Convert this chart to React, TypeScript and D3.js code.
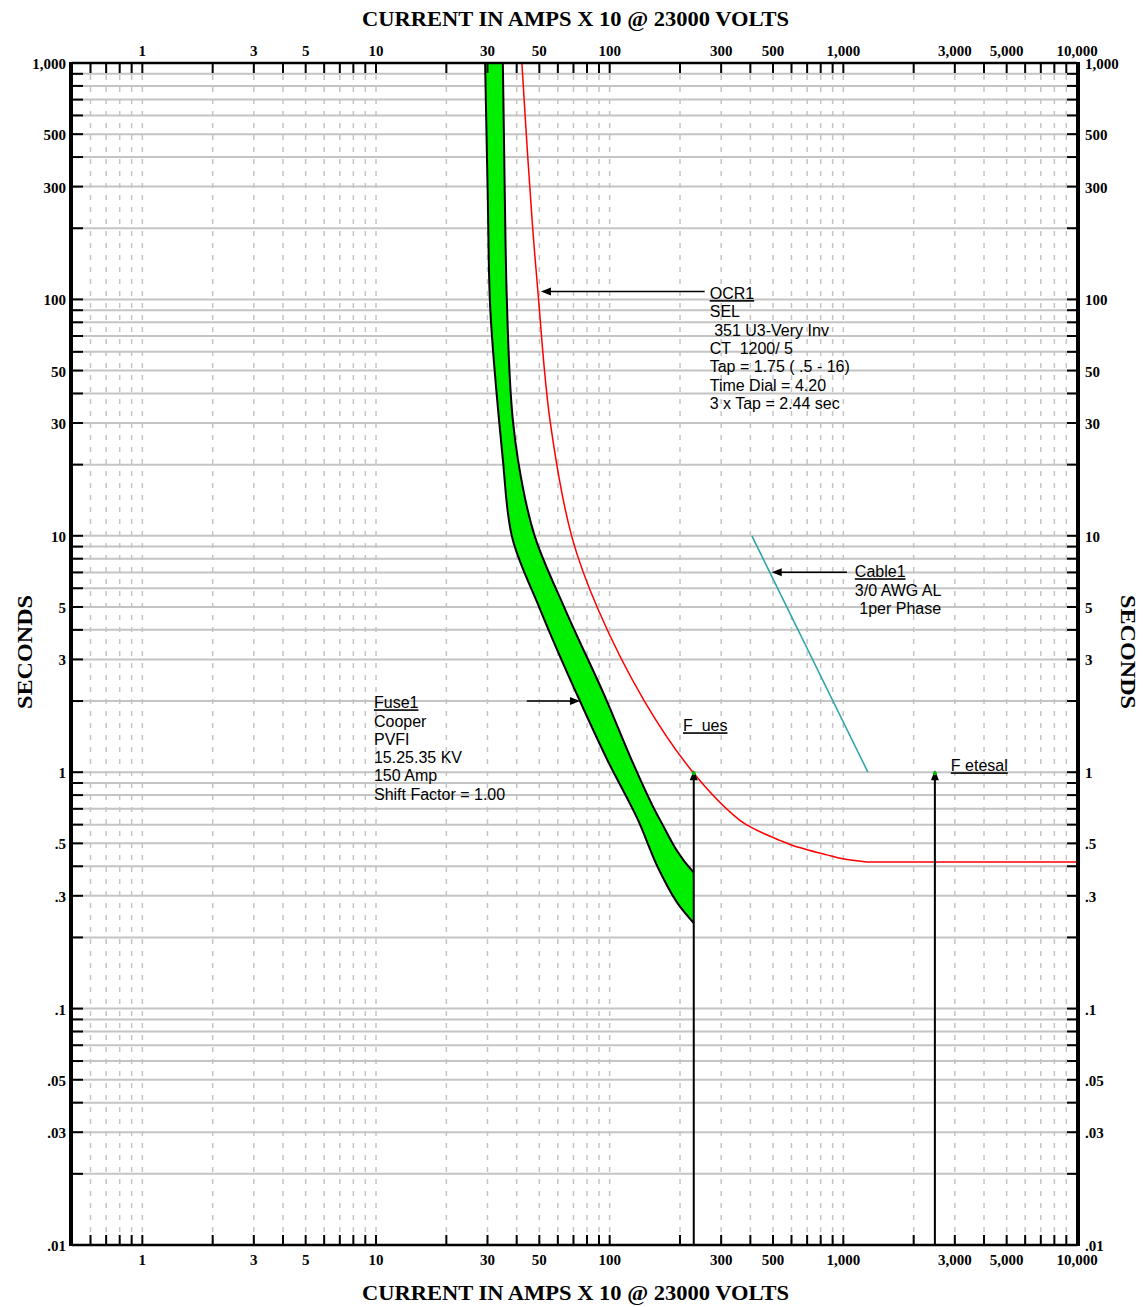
import React from 'react';
import * as d3 from 'd3';

const WIDTH = 1143;
const HEIGHT = 1307;
const PLOT = { left: 72, right: 1077, top: 63, bottom: 1245 };

// current (amps x 10) and time (seconds)
const xTickLabels = [1, 3, 5, 10, 30, 50, 100, 300, 500, 1000, 3000, 5000, 10000];
const yTickLabels = [1000, 500, 300, 100, 50, 30, 10, 5, 3, 1, 0.5, 0.3, 0.1, 0.05, 0.03, 0.01];

const fuseMinMelt: [number, number][] = [
  [29.3, 1000], [30.1, 263], [30.7, 100], [33.6, 31], [34.9, 21], [38.2, 9.9],
  [50.3, 4.9], [74.6, 2.0], [98, 1.12], [132, 0.63], [164, 0.38], [200, 0.27], [229, 0.23],
];
const fuseTotalClear: [number, number][] = [
  [34.9, 1000], [35.6, 263], [36.3, 100], [38.5, 31], [40.5, 21], [47.9, 9.9],
  [64.4, 4.9], [97.3, 2.0], [124.5, 1.12], [164, 0.63], [225, 0.384], [229, 0.377],
];
const ocrCurve: [number, number][] = [
  [42.1, 1000], [44.7, 389], [46.9, 197], [49.3, 108], [55.5, 31], [68.9, 9.9], [89.1, 4.9],
  [141.6, 1.98], [229, 0.99], [361, 0.626], [427, 0.568], [535, 0.515], [608, 0.49],
  [850, 0.447], [995, 0.43], [1261, 0.417], [10000, 0.417],
];
const cableCurve: [number, number][] = [[406, 10], [1274, 1]];
const faultCurrents = [229, 2465];
const faultTime = 1;

const ocrText = ['SEL', ' 351 U3-Very Inv', 'CT  1200/ 5', 'Tap = 1.75 ( .5 - 16)', 'Time Dial = 4.20', '3 x Tap = 2.44 sec'];
const fuseText = ['Cooper', 'PVFI', '15.25.35 KV', '150 Amp', 'Shift Factor = 1.00'];
const cableText = ['3/0 AWG AL', ' 1per Phase'];

const SANS = '"Liberation Sans", Arial, sans-serif';
const SERIF = '"Liberation Serif", "Times New Roman", serif';

const fmtX = d3.format(',');
const fmtY = (v: number) => (v < 1 ? String(v).replace(/^0/, '') : d3.format(',')(v));

const HArrow = ({ x1, x2, y }: { x1: number; x2: number; y: number }) => {
  const dir = x2 > x1 ? 1 : -1;
  return (
    <g>
      <line x1={x1} x2={x2 - dir * 6} y1={y} y2={y} stroke="#000" strokeWidth={1.6} />
      <path d={`M${x2},${y} L${x2 - dir * 10},${y - 4} L${x2 - dir * 10},${y + 4} Z`} fill="#000" />
    </g>
  );
};

const Note = ({ x, y, title, lines }: { x: number; y: number; title: string; lines: string[] }) => (
  <text x={x} y={y} fontFamily={SANS} fontSize={16} fill="#000" style={{ whiteSpace: 'pre' }}>
    <tspan x={x} y={y} style={{ textDecoration: 'underline' }}>{title}</tspan>
    {lines.map((l, i) => (
      <tspan key={i} x={x} y={y + 18.3 * (i + 1)}>{l}</tspan>
    ))}
  </text>
);

const App = () => {
  const x = d3.scaleLog().domain([0.5, 10000]).range([PLOT.left, PLOT.right]);
  const y = d3.scaleLog().domain([0.01, 1000]).range([PLOT.bottom, PLOT.top]);

  const xGrid = x.ticks();
  const yGrid = y.ticks();

  // curves fall with time, so smooth them along y
  const line = d3
    .line<[number, number]>()
    .x((d) => x(d[0]))
    .y((d) => y(d[1]))
    .curve(d3.curveMonotoneY);

  const meltPath = line(fuseMinMelt) ?? '';
  const clearPath = line(fuseTotalClear) ?? '';
  const clearBack = line([...fuseTotalClear].reverse()) ?? '';
  const bandPath = meltPath + 'L' + clearBack.slice(1) + 'Z';

  const ocrTail = ocrCurve[ocrCurve.length - 1];
  const ocrLine = d3
    .line<[number, number]>()
    .x((d) => x(d[0]))
    .y((d) => y(d[1]))
    .curve(d3.curveCatmullRom.alpha(0.5));
  const ocrPath = (ocrLine(ocrCurve.slice(0, -1)) ?? '') + `L${x(ocrTail[0])},${y(ocrTail[1])}`;

  const midY = (PLOT.top + PLOT.bottom) / 2;
  const midX = (PLOT.left + PLOT.right) / 2 + 1;

  return (
    <svg width={WIDTH} height={HEIGHT} style={{ position: 'absolute', left: 0, top: 0, background: '#fff' }}>
      <defs>
        <clipPath id="plot">
          <rect x={PLOT.left} y={PLOT.top} width={PLOT.right - PLOT.left} height={PLOT.bottom - PLOT.top} />
        </clipPath>
      </defs>
      <rect width={WIDTH} height={HEIGHT} fill="#fff" />

      {/* grid */}
      {yGrid.map((t, i) => (
        <line key={'hy' + i} x1={PLOT.left} x2={PLOT.right} y1={y(t)} y2={y(t)} stroke="#c4c4c4" strokeWidth={2} />
      ))}
      {xGrid.map((v, i) => (
        <line key={'vx' + i} x1={x(v)} x2={x(v)} y1={PLOT.top} y2={PLOT.bottom} stroke="#c4c4c4" strokeWidth={1.5} strokeDasharray="5,7" />
      ))}

      {/* curves */}
      <g clipPath="url(#plot)">
        <path d={bandPath} fill="#00ee00" stroke="none" />
        <path d={meltPath} fill="none" stroke="#000" strokeWidth={2} />
        <path d={clearPath} fill="none" stroke="#000" strokeWidth={2} />
        <path d={ocrPath} fill="none" stroke="#ff0000" strokeWidth={1.5} />
        <path d={d3.line<[number, number]>().x((d) => x(d[0])).y((d) => y(d[1]))(cableCurve) ?? ''} fill="none" stroke="#2aa3a8" strokeWidth={1.5} />
      </g>

      {/* fault markers */}
      {faultCurrents.map((f, i) => (
        <g key={'f' + i}>
          <line x1={x(f)} x2={x(f)} y1={PLOT.bottom} y2={y(faultTime) + 6} stroke="#000" strokeWidth={2} />
          <path d={`M${x(f)},${y(faultTime) - 2} L${x(f) - 4},${y(faultTime) + 8} L${x(f) + 4},${y(faultTime) + 8} Z`} fill="#000" />
          <circle cx={x(f)} cy={y(faultTime) + 1} r={2} fill="#00c000" />
        </g>
      ))}

      {/* annotations */}
      <HArrow x1={x(255)} x2={x(50.8)} y={y(108)} />
      <Note x={x(268)} y={y(100.3)} title="OCR1" lines={ocrText} />
      <HArrow x1={x(44.2)} x2={x(74.6)} y={y(2.0)} />
      <Note x={x(9.8)} y={y(1.864)} title="Fuse1" lines={fuseText} />
      <HArrow x1={x(1036)} x2={x(494)} y={y(7.01)} />
      <Note x={x(1120)} y={y(6.68)} title="Cable1" lines={cableText} />
      <Note x={x(206)} y={y(1.49)} title="F  ues" lines={[]} />
      <Note x={x(2885)} y={y(1.009)} title="F etesal" lines={[]} />

      {/* frame */}
      <line x1={PLOT.left} x2={PLOT.right} y1={PLOT.top} y2={PLOT.top} stroke="#000" strokeWidth={2.5} />
      <line x1={PLOT.left} x2={PLOT.right} y1={PLOT.bottom} y2={PLOT.bottom} stroke="#000" strokeWidth={2.5} />
      <line x1={PLOT.left - 1} x2={PLOT.left - 1} y1={PLOT.top - 1} y2={PLOT.bottom + 1} stroke="#000" strokeWidth={4} />
      <line x1={PLOT.right + 1} x2={PLOT.right + 1} y1={PLOT.top - 1} y2={PLOT.bottom + 1} stroke="#000" strokeWidth={4} />

      {/* tick marks */}
      {xGrid.map((v, i) => (
        <g key={'xt' + i}>
          <line x1={x(v)} x2={x(v)} y1={PLOT.top} y2={PLOT.top + 10} stroke="#000" strokeWidth={2} />
          <line x1={x(v)} x2={x(v)} y1={PLOT.bottom} y2={PLOT.bottom - 10} stroke="#000" strokeWidth={2} />
        </g>
      ))}
      {yGrid.map((t, i) => (
        <g key={'yt' + i}>
          <line x1={PLOT.left} x2={PLOT.left + 11} y1={y(t)} y2={y(t)} stroke="#000" strokeWidth={2} />
          <line x1={PLOT.right} x2={PLOT.right - 10} y1={y(t)} y2={y(t)} stroke="#000" strokeWidth={2} />
        </g>
      ))}

      {/* tick labels */}
      <g fontFamily={SERIF} fontWeight="bold" fontSize={15} fill="#000">
        {xTickLabels.map((v) => (
          <g key={'xl' + v}>
            <text x={x(v)} y={56} textAnchor="middle">{fmtX(v)}</text>
            <text x={x(v)} y={1265} textAnchor="middle">{fmtX(v)}</text>
          </g>
        ))}
        {yTickLabels.map((t) => (
          <g key={'yl' + t}>
            <text x={66} y={y(t) + 6} textAnchor="end">{fmtY(t)}</text>
            <text x={1085} y={y(t) + 6} textAnchor="start">{fmtY(t)}</text>
          </g>
        ))}
      </g>

      {/* titles */}
      <g fontFamily={SERIF} fontWeight="bold" fill="#000">
        <text x={midX} y={26} textAnchor="middle" fontSize={20} textLength={427} lengthAdjust="spacingAndGlyphs">
          CURRENT IN AMPS X 10 @ 23000 VOLTS
        </text>
        <text x={midX} y={1300} textAnchor="middle" fontSize={20} textLength={427} lengthAdjust="spacingAndGlyphs">
          CURRENT IN AMPS X 10 @ 23000 VOLTS
        </text>
        <text transform={`translate(32,${midY - 2}) rotate(-90)`} textAnchor="middle" fontSize={22} textLength={114} lengthAdjust="spacingAndGlyphs">
          SECONDS
        </text>
        <text transform={`translate(1121,${midY - 2}) rotate(90)`} textAnchor="middle" fontSize={22} textLength={114} lengthAdjust="spacingAndGlyphs">
          SECONDS
        </text>
      </g>
    </svg>
  );
};

export default App;
